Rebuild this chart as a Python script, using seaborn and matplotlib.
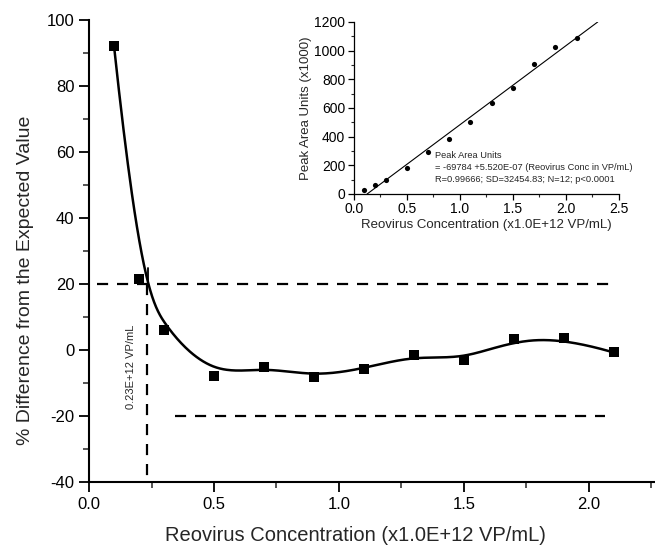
import numpy as np
import pandas as pd
import matplotlib
matplotlib.use("Agg")
import matplotlib.pyplot as plt
from matplotlib.ticker import MultipleLocator, FixedLocator
import seaborn as sns

# ---- data ----
conc = [0.1, 0.2, 0.3, 0.5, 0.7, 0.9, 1.1, 1.3, 1.5, 1.7, 1.9, 2.1]
pct_diff = [92.0, 21.6, 6.2, -7.8, -5.0, -8.0, -5.6, -1.6, -2.9, 3.3, 3.7, -0.7]
peak_area = [30, 60, 100, 182, 296, 386, 503, 638, 736, 906, 1022, 1086]
fit_intercept = -69.784   # x1000
fit_slope = 552.0         # x1000 per 1e12 VP/mL
limit_upper = 20
limit_lower = -20
lloq = 0.23
x_ticks = [0.0, 0.5, 1.0, 1.5, 2.0]
x_tick_labels = ["0.0", "0.5", "1.0", "1.5", "2.0"]

sns.set_theme(style="ticks")
plt.rcParams['font.family'] = ['Liberation Sans', 'DejaVu Sans']
plt.rcParams['axes.unicode_minus'] = False


def bspline_curve(px, py, num=400, k=3):
    """Clamped B-spline using the data points as control points."""
    px = np.asarray(px, float)
    py = np.asarray(py, float)
    n = len(px)
    inner = np.arange(1, n - k)
    t = np.concatenate([np.zeros(k + 1), inner, np.full(k + 1, n - k)]).astype(float)
    u = np.linspace(0, n - k, num)
    u[-1] -= 1e-9
    B = np.zeros((num, len(t) - 1))
    for i in range(len(t) - 1):
        B[:, i] = ((u >= t[i]) & (u < t[i + 1])).astype(float)
    for d in range(1, k + 1):
        Bn = np.zeros((num, len(t) - 1 - d))
        for i in range(len(t) - 1 - d):
            den1 = t[i + d] - t[i]
            den2 = t[i + d + 1] - t[i + 1]
            term = np.zeros(num)
            if den1 > 0:
                term += (u - t[i]) / den1 * B[:, i]
            if den2 > 0:
                term += (t[i + d + 1] - u) / den2 * B[:, i + 1]
            Bn[:, i] = term
        B = Bn
    return B @ px, B @ py


cx, cy = bspline_curve(conc, pct_diff)

fig = plt.figure(figsize=(6.55, 5.48), dpi=100)
ax = fig.add_axes([0.136, 0.120, 0.864, 0.8435])

curve_df = pd.DataFrame({"x": cx, "y": cy})
sns.lineplot(data=curve_df, x="x", y="y", sort=False, color="black", lw=1.8, ax=ax)
pts_df = pd.DataFrame({"x": conc, "y": pct_diff})
sns.scatterplot(data=pts_df, x="x", y="y", marker="s", s=62, color="black",
                edgecolor="black", linewidth=0, ax=ax, zorder=5)

dash = (0, (5, 4))
ax.plot([0.03, 2.08], [limit_upper, limit_upper], color="black", lw=1.6, linestyle=dash)
ax.plot([0.345, 2.065], [limit_lower, limit_lower], color="black", lw=1.6, linestyle=dash)
ax.plot([lloq, lloq], [limit_upper, -40], color="black", lw=1.6, linestyle=dash)
ax.plot([lloq + 0.005, lloq + 0.005], [limit_upper, limit_upper + 5], color="black", lw=1.3)
ax.text(0.168, -5, "0.23E+12 VP/mL", rotation=90, ha="center", va="center", fontsize=8)

ax.set_xlim(0, 2.265)
ax.set_ylim(-40, 100)
ax.xaxis.set_major_locator(FixedLocator(x_ticks))
ax.set_xticklabels(x_tick_labels)
ax.xaxis.set_minor_locator(MultipleLocator(0.25))
ax.yaxis.set_major_locator(MultipleLocator(20))
ax.yaxis.set_minor_locator(MultipleLocator(10))
ax.tick_params(which="major", direction="out", length=7, width=1.3, labelsize=12, colors="black")
ax.tick_params(which="minor", direction="out", length=4, width=1.1)
for s in ["top", "right"]:
    ax.spines[s].set_visible(False)
for s in ["left", "bottom"]:
    ax.spines[s].set_linewidth(1.5)
    ax.spines[s].set_color("black")
ax.set_xlabel("Reovirus Concentration (x1.0E+12 VP/mL)", fontsize=14.5)
ax.set_ylabel("% Difference from the Expected Value", fontsize=14)
ax.xaxis.set_label_coords(0.47, -0.095)
ax.yaxis.set_label_coords(-0.098, 0.437)

# ---- inset ----
ins = fig.add_axes([0.540, 0.646, 0.405, 0.314])
ins_df = pd.DataFrame({"x": conc, "y": peak_area})
sns.scatterplot(data=ins_df, x="x", y="y", marker="o", s=14, color="black",
                edgecolor="black", linewidth=0, ax=ins, zorder=5)
x0 = -fit_intercept / fit_slope
x1 = (1200 - fit_intercept) / fit_slope
ins.plot([x0, x1], [fit_intercept + fit_slope * x0, fit_intercept + fit_slope * x1],
         color="black", lw=0.8)
ins.set_xlim(0, 2.5)
ins.set_ylim(0, 1200)
ins.xaxis.set_major_locator(MultipleLocator(0.5))
ins.xaxis.set_minor_locator(MultipleLocator(0.25))
ins.yaxis.set_major_locator(MultipleLocator(200))
ins.yaxis.set_minor_locator(MultipleLocator(100))
ins.tick_params(which="major", direction="out", length=4, width=0.9, labelsize=10, colors="black", pad=2)
ins.tick_params(which="minor", direction="out", length=2, width=0.8)
for s in ["top", "right"]:
    ins.spines[s].set_visible(False)
for s in ["left", "bottom"]:
    ins.spines[s].set_linewidth(0.9)
    ins.spines[s].set_color("black")
ins.set_facecolor("none")
ins.set_xlabel("Reovirus Concentration (x1.0E+12 VP/mL)", fontsize=9.5, labelpad=2)
ins.set_ylabel("Peak Area Units (x1000)", fontsize=9.5, labelpad=2)
ins.text(0.77, 300, "Peak Area Units\n= -69784 +5.520E-07 (Reovirus Conc in VP/mL)\n"
         "R=0.99666; SD=32454.83; N=12; p<0.0001",
         fontsize=6.7, ha="left", va="top", linespacing=1.45)

fig.savefig("out.png", dpi=100)
